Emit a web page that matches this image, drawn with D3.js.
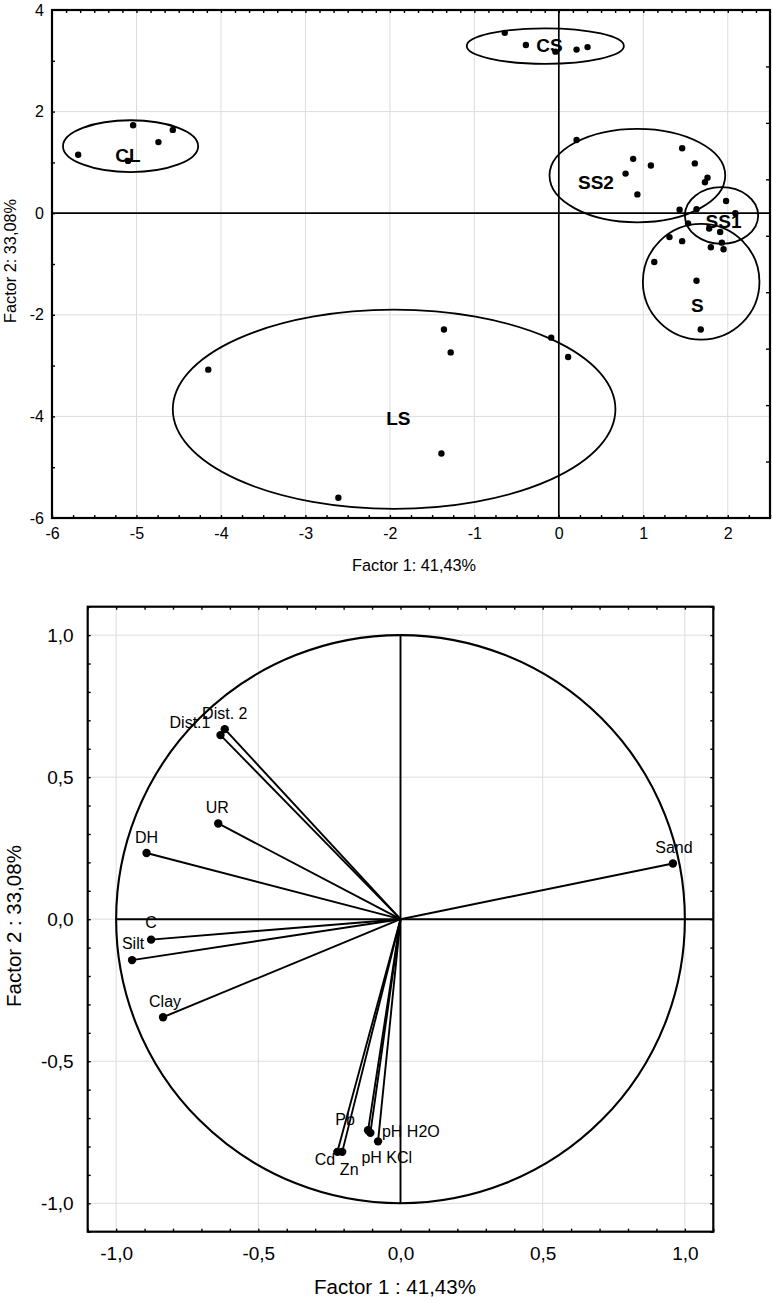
<!DOCTYPE html>
<html><head><meta charset="utf-8">
<script src="https://cdn.jsdelivr.net/npm/d3@7"></script>
<style>
body{margin:0;background:#fff;}
svg{display:block;font-family:"Liberation Sans",Arial,Helvetica,sans-serif;}
</style></head><body>
<svg id="c" width="772" height="1302"></svg>
<script>
// ===== Top chart: case scores (Factor 1 vs Factor 2) =====
const scoreGroup = ["CL","CL","CL","CL","CL",
  "CS","CS","CS","CS","CS",
  "SS2","SS2","SS2","SS2","SS2","SS2","SS2","SS2","SS2","SS2","SS2",
  "SS1","SS1","SS1","SS1","SS1","SS1","SS1","SS1","SS1","SS1",
  "S","S","S",
  "LS","LS","LS","LS","LS","LS","LS"];
const scoreX = [-5.69,-5.04,-4.74,-4.57,-5.10,
  -0.64,-0.39,-0.04,0.21,0.34,
  0.21,0.88,1.09,0.79,0.93,1.46,1.61,1.76,1.73,1.43,1.63,
  1.98,2.09,1.53,1.78,1.91,1.93,1.95,1.80,1.31,1.46,
  1.13,1.63,1.68,
  -4.15,-2.61,-1.36,-1.28,-1.39,-0.09,0.11];
const scoreY = [1.15,1.73,1.40,1.64,1.03,
  3.55,3.31,3.18,3.22,3.27,
  1.44,1.07,0.94,0.78,0.37,1.28,0.98,0.70,0.61,0.07,0.08,
  0.24,0.00,-0.20,-0.30,-0.37,-0.58,-0.71,-0.67,-0.47,-0.55,
  -0.96,-1.33,-2.29,
  -3.08,-5.60,-2.29,-2.74,-4.73,-2.45,-2.83];

// group ellipses (data units)
const groupNames = ["CL","CS","SS2","SS1","S","LS"];
const ellipseCX = [-5.07,-0.16,0.93,1.926,1.685,-1.95];
const ellipseCY = [1.32,3.29,0.74,-0.045,-1.35,-3.86];
const ellipseRX = [0.80,0.93,1.04,0.434,0.69,2.62];
const ellipseRY = [0.51,0.35,0.92,0.557,1.14,1.96];
const groupLabelX = [-5.10,-0.11,0.44,1.95,1.64,-1.90];
const groupLabelY = [1.14,3.31,0.62,-0.15,-1.81,-4.04];

const topXTicks = [-6,-5,-4,-3,-2,-1,0,1,2];
const topYTicks = [4,2,0,-2,-4,-6];
const topXTitle = "Factor 1: 41,43%";
const topYTitle = "Factor 2: 33,08%";

// ===== Bottom chart: variable loadings =====
const varNames = ["Dist. 2","Dist.1","UR","DH","C","Silt","Clay","Sand","Pb","Cd","Zn","pH H2O","pH KCl"];
const loadX = [-0.618,-0.633,-0.641,-0.893,-0.877,-0.944,-0.835,0.958,-0.114,-0.222,-0.205,-0.106,-0.079];
const loadY = [0.669,0.648,0.337,0.233,-0.072,-0.144,-0.345,0.196,-0.743,-0.819,-0.819,-0.752,-0.782];

const botTicks = [-1.0,-0.5,0.0,0.5,1.0];
const botXTitle = "Factor 1 : 41,43%";
const botYTitle = "Factor 2 : 33,08%";

// label placement offsets (px) – style only
const labelOffset = {
  "Dist. 2":[0,-16,"middle"], "Dist.1":[-30.5,-13,"middle"], "UR":[-1,-16.6,"middle"],
  "DH":[0,-16,"middle"], "C":[0,-17,"middle"], "Silt":[1,-17,"middle"], "Clay":[2,-16,"middle"],
  "Sand":[1,-16.6,"middle"], "Pb":[-23,-11,"middle"], "Cd":[-12.5,7.3,"middle"],
  "Zn":[7,17.6,"middle"], "pH H2O":[11.6,-2,"start"], "pH KCl":[-16.6,16.3,"start"]
};

const svg = d3.select("#c");
const fmtInt = d => (d<0?"-":"") + Math.abs(d);
const fmtDec = d => (d<0?"-":"") + Math.abs(d).toFixed(1).replace(".",",");
const GRID = "#dcdcdc";

function tickAxis(g, axis){
  g.call(axis);
  g.select(".domain").remove();
  g.selectAll("line").attr("stroke","#000").attr("stroke-width",1.4);
}
function labelAxis(g, axis, size){
  g.call(axis);
  g.select(".domain").remove();
  g.selectAll("line").remove();
  g.attr("font-family",null).attr("font-size",size).selectAll("text").attr("fill","#000");
}

// ---------------- TOP CHART ----------------
{
  const L=52, R=770, T=10, B=518;
  const x = d3.scaleLinear().domain([-6,2.5]).range([L,R]);
  const y = d3.scaleLinear().domain([-6,4]).range([B,T]);
  const xTop = d3.scaleLinear().domain([-36,15]).range([L,R]); // finer top ruler (1/6 unit)
  const yRight = d3.scaleLinear().domain([0,9]).range([B,T]);
  const g = svg.append("g");

  // grid
  g.append("g").selectAll("line").data(topXTicks.filter(d=>d!==0&&d!==-6)).join("line")
    .attr("x1",d=>x(d)).attr("x2",d=>x(d)).attr("y1",T).attr("y2",B)
    .attr("stroke",GRID).attr("stroke-width",1);
  g.append("g").selectAll("line").data(topYTicks.filter(d=>d!==0&&d!==4&&d!==-6)).join("line")
    .attr("y1",d=>y(d)).attr("y2",d=>y(d)).attr("x1",L).attr("x2",R)
    .attr("stroke",GRID).attr("stroke-width",1);
  // zero lines
  g.append("line").attr("x1",x(0)).attr("x2",x(0)).attr("y1",T).attr("y2",B).attr("stroke","#000").attr("stroke-width",1.7);
  g.append("line").attr("y1",y(0)).attr("y2",y(0)).attr("x1",L).attr("x2",R).attr("stroke","#000").attr("stroke-width",1.7);

  // ticks
  g.append("g").attr("transform",`translate(0,${B})`)
    .call(gg=>tickAxis(gg,d3.axisBottom(x).tickValues(d3.range(-6,2.51,0.25)).tickSize(-3).tickFormat("")));
  g.append("g").attr("transform",`translate(0,${T})`)
    .call(gg=>tickAxis(gg,d3.axisTop(xTop).tickValues(d3.range(-35,15,1)).tickSize(-3).tickFormat("")));
  g.append("g").attr("transform",`translate(${L},0)`)
    .call(gg=>tickAxis(gg,d3.axisLeft(y).tickValues(d3.range(-5,4,1)).tickSize(-3).tickFormat("")));
  g.append("g").attr("transform",`translate(${R},0)`)
    .call(gg=>tickAxis(gg,d3.axisRight(yRight).tickValues(d3.range(1,9,1)).tickSize(-4).tickFormat("")));

  // frame
  g.append("rect").attr("x",L).attr("y",T).attr("width",R-L).attr("height",B-T)
    .attr("fill","none").attr("stroke","#000").attr("stroke-width",2.2);

  // tick labels
  g.append("g").attr("transform",`translate(0,${B})`)
    .call(gg=>labelAxis(gg,d3.axisBottom(x).tickValues(topXTicks).tickSize(0).tickPadding(10).tickFormat(fmtInt),"16px"));
  g.append("g").attr("transform",`translate(${L},0)`)
    .call(gg=>labelAxis(gg,d3.axisLeft(y).tickValues(topYTicks).tickSize(0).tickPadding(8).tickFormat(fmtInt),"16px"));

  // titles
  g.append("text").attr("x",414).attr("y",565).attr("dy","0.35em").attr("text-anchor","middle")
    .attr("font-size","16.3px").text(topXTitle);
  g.append("text").attr("transform",`translate(10,261) rotate(-90)`).attr("dy","0.35em").attr("text-anchor","middle")
    .attr("font-size","16.3px").text(topYTitle);

  // ellipses
  g.append("g").selectAll("ellipse").data(groupNames).join("ellipse")
    .attr("cx",(d,i)=>x(ellipseCX[i])).attr("cy",(d,i)=>y(ellipseCY[i]))
    .attr("rx",(d,i)=>x(ellipseRX[i])-x(0)).attr("ry",(d,i)=>y(0)-y(ellipseRY[i]))
    .attr("fill","none").attr("stroke","#000").attr("stroke-width",1.8);

  // points
  g.append("g").selectAll("circle").data(scoreX).join("circle")
    .attr("cx",(d,i)=>x(scoreX[i])).attr("cy",(d,i)=>y(scoreY[i])).attr("r",3.2).attr("fill","#000");

  // group labels
  g.append("g").selectAll("text").data(groupNames).join("text")
    .attr("x",(d,i)=>x(groupLabelX[i])).attr("y",(d,i)=>y(groupLabelY[i]))
    .attr("dy","0.36em").attr("text-anchor","middle").attr("font-weight","bold").attr("font-size","19px")
    .text(d=>d);
}

// ---------------- BOTTOM CHART ----------------
{
  const L=87.7, R=713.3, T=606.7, B=1231.7;
  const x = d3.scaleLinear().domain([-1.1,1.1]).range([L,R]);
  const y = d3.scaleLinear().domain([-1.1,1.1]).range([B,T]);
  const g = svg.append("g");

  // grid
  g.append("g").selectAll("line").data(botTicks.filter(d=>d!==0)).join("line")
    .attr("x1",d=>x(d)).attr("x2",d=>x(d)).attr("y1",T).attr("y2",B)
    .attr("stroke",GRID).attr("stroke-width",1);
  g.append("g").selectAll("line").data(botTicks).join("line")
    .attr("y1",d=>y(d)).attr("y2",d=>y(d)).attr("x1",L).attr("x2",R)
    .attr("stroke",GRID).attr("stroke-width",1);

  // unit circle
  g.append("ellipse").attr("cx",x(0)).attr("cy",y(0)).attr("rx",x(1)-x(0)).attr("ry",y(0)-y(1))
    .attr("fill","none").attr("stroke","#000").attr("stroke-width",2.1);
  // zero lines
  g.append("line").attr("x1",x(0)).attr("x2",x(0)).attr("y1",y(1)).attr("y2",y(-1)).attr("stroke","#000").attr("stroke-width",1.9);
  g.append("line").attr("y1",y(0)).attr("y2",y(0)).attr("x1",x(-1)).attr("x2",x(1.1)).attr("stroke","#000").attr("stroke-width",1.9);

  // ticks
  const minor = d3.range(-11,12).map(k=>k/10);
  g.append("g").attr("transform",`translate(0,${B})`)
    .call(gg=>tickAxis(gg,d3.axisBottom(x).tickValues(minor).tickSize(-3).tickFormat("")));
  g.append("g").attr("transform",`translate(0,${T})`)
    .call(gg=>tickAxis(gg,d3.axisTop(x).tickValues(minor).tickSize(-3).tickFormat("")));
  g.append("g").attr("transform",`translate(${L},0)`)
    .call(gg=>tickAxis(gg,d3.axisLeft(y).tickValues(minor).tickSize(-3).tickFormat("")));
  g.append("g").attr("transform",`translate(${R},0)`)
    .call(gg=>tickAxis(gg,d3.axisRight(y).tickValues(minor).tickSize(-3).tickFormat("")));

  // frame
  g.append("rect").attr("x",L).attr("y",T).attr("width",R-L).attr("height",B-T)
    .attr("fill","none").attr("stroke","#000").attr("stroke-width",2.2);

  // tick labels
  g.append("g").attr("transform",`translate(0,${B})`)
    .call(gg=>labelAxis(gg,d3.axisBottom(x).tickValues(botTicks).tickSize(0).tickPadding(15).tickFormat(fmtDec),"19px"));
  g.append("g").attr("transform",`translate(${L},0)`)
    .call(gg=>labelAxis(gg,d3.axisLeft(y).tickValues(botTicks).tickSize(0).tickPadding(14).tickFormat(fmtDec),"19px"));

  // titles
  g.append("text").attr("x",395).attr("y",1286.7).attr("dy","0.35em").attr("text-anchor","middle")
    .attr("font-size","20.5px").text(botXTitle);
  g.append("text").attr("transform",`translate(14,926) rotate(-90)`).attr("dy","0.35em").attr("text-anchor","middle")
    .attr("font-size","20.5px").text(botYTitle);

  // vectors
  g.append("g").selectAll("line").data(varNames).join("line")
    .attr("x1",x(0)).attr("y1",y(0))
    .attr("x2",(d,i)=>x(loadX[i])).attr("y2",(d,i)=>y(loadY[i]))
    .attr("stroke","#000").attr("stroke-width",1.9);
  g.append("g").selectAll("circle").data(varNames).join("circle")
    .attr("cx",(d,i)=>x(loadX[i])).attr("cy",(d,i)=>y(loadY[i])).attr("r",4.2).attr("fill","#000");
  g.append("g").selectAll("text").data(varNames).join("text")
    .attr("x",(d,i)=>x(loadX[i])+labelOffset[d][0]).attr("y",(d,i)=>y(loadY[i])+labelOffset[d][1])
    .attr("dy","0.36em").attr("text-anchor",d=>labelOffset[d][2]).attr("font-size","16px")
    .text(d=>d);
}
</script>
</body></html>
